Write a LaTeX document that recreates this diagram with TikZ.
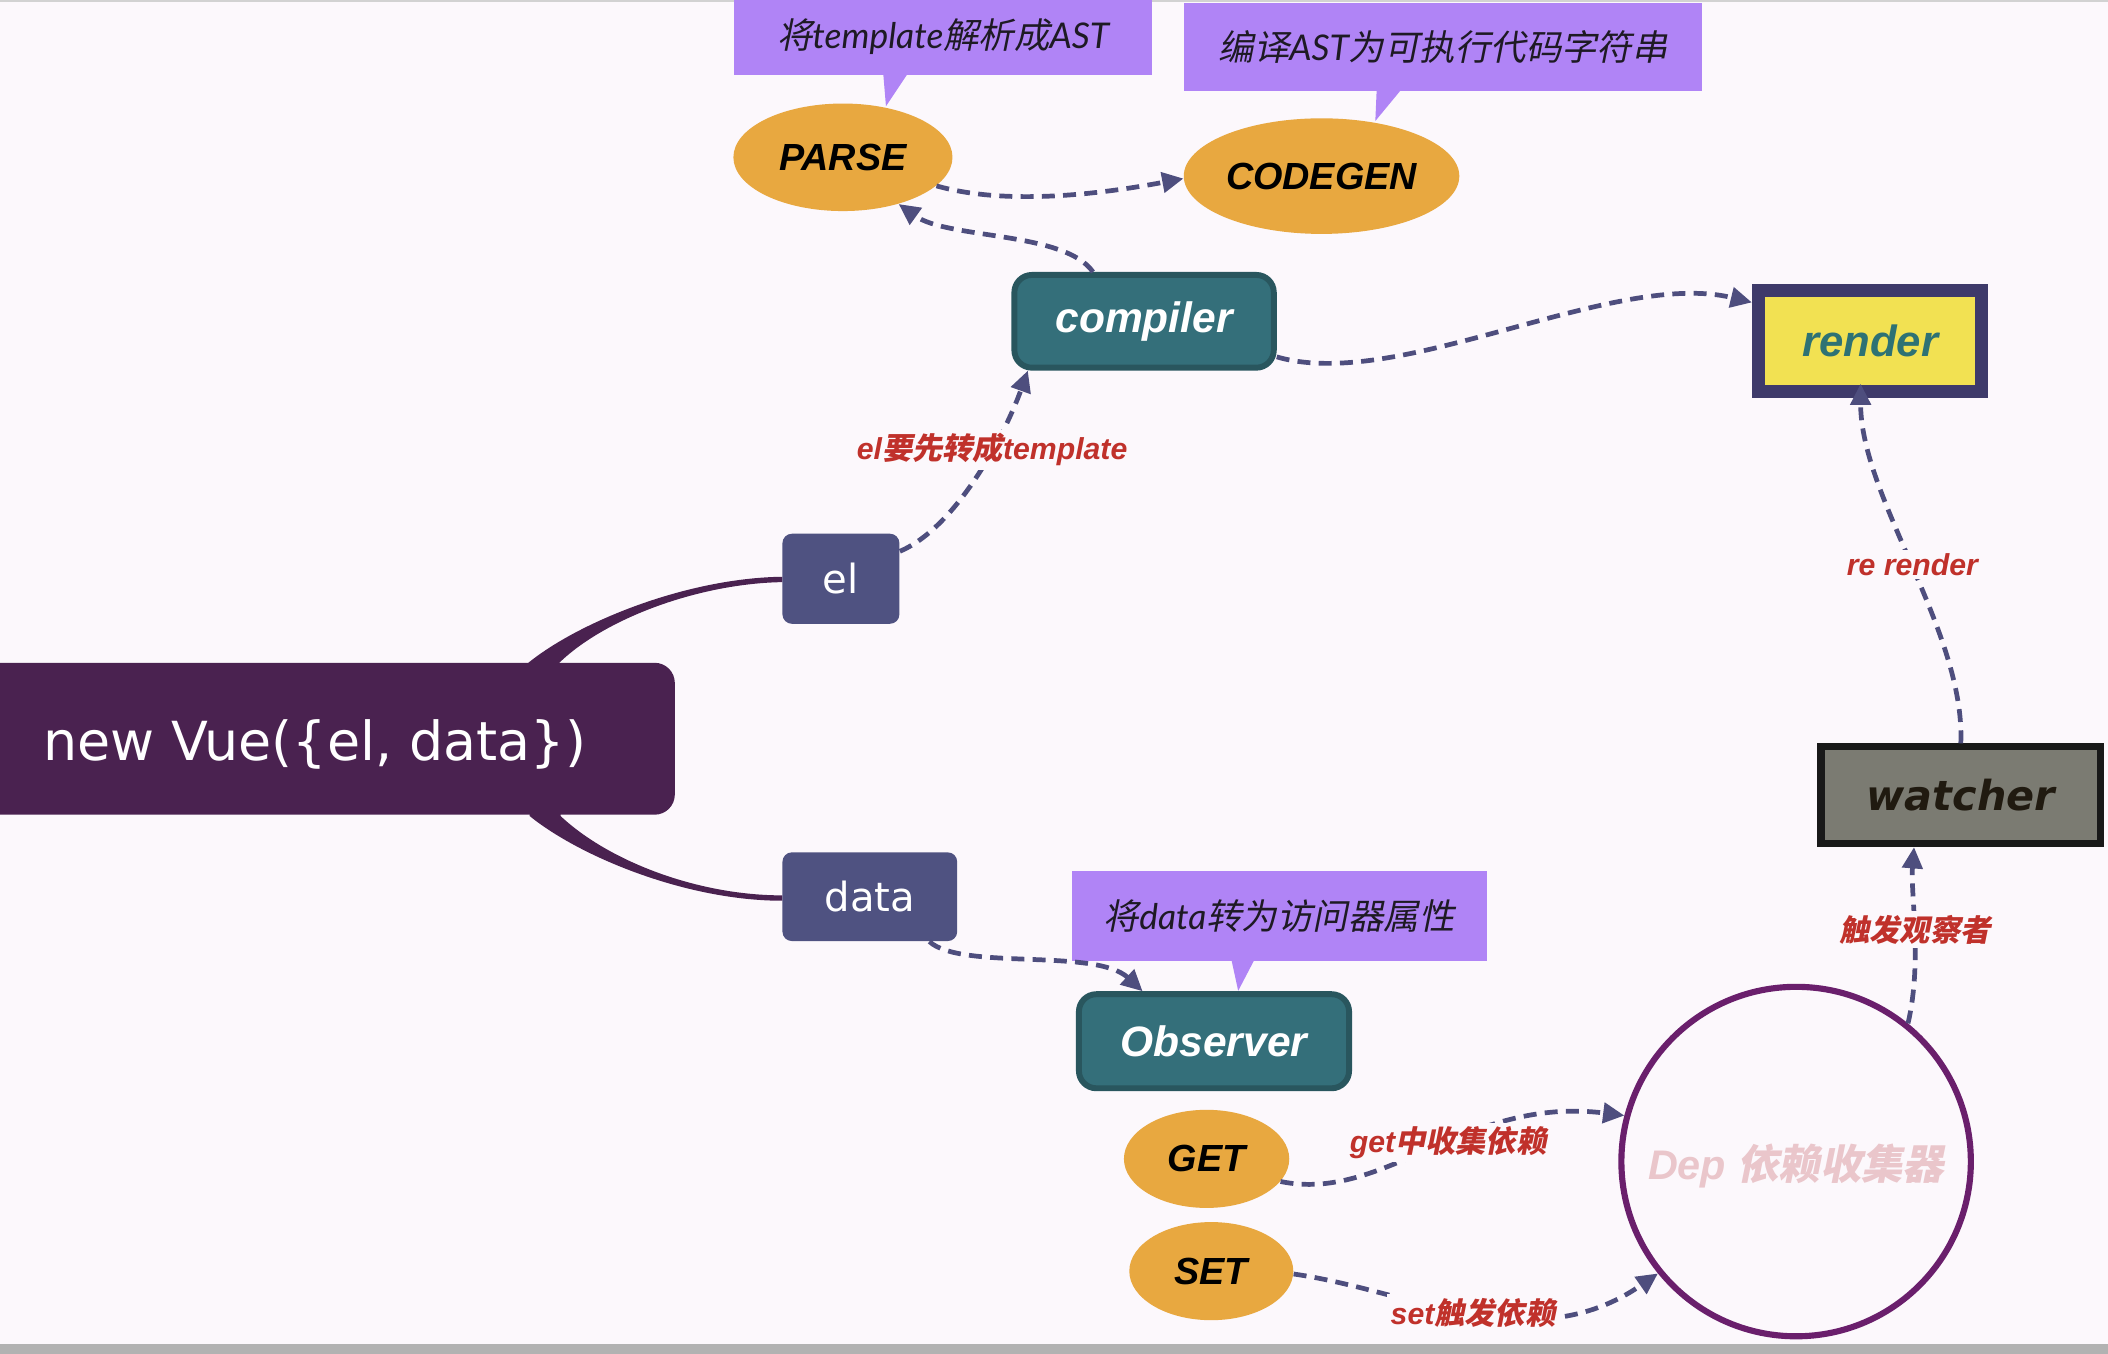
\documentclass[tikz,border=0pt]{standalone}
\usepackage{fontspec}
\setmainfont{Liberation Sans}
\newfontfamily\cjk{Noto Sans CJK SC}[FakeSlant=0.2]
\newfontfamily\latinf{Lato}
\newfontfamily\dvs{DejaVu Sans}
\usetikzlibrary{arrows.meta,shapes.geometric,calc}
\definecolor{bg}{HTML}{FCF8FC}
\definecolor{callp}{HTML}{B084F6}
\definecolor{orangec}{HTML}{E8A840}
\definecolor{tealc}{HTML}{346F7A}
\definecolor{tealdk}{HTML}{29565E}
\definecolor{slatec}{HTML}{4F5281}
\definecolor{vuec}{HTML}{4A2250}
\definecolor{renderbd}{HTML}{3E3A6A}
\definecolor{renderfill}{HTML}{F2E152}
\definecolor{rendertxt}{HTML}{2E7274}
\definecolor{watchfill}{HTML}{7B7B72}
\definecolor{watchtxt}{HTML}{201A10}
\definecolor{depc}{HTML}{6A1F6C}
\definecolor{deptxt}{HTML}{EAC6CB}
\definecolor{connc}{HTML}{4E4E7E}
\definecolor{labred}{HTML}{C0312B}
\definecolor{calltxt}{HTML}{1E1A24}
\newcommand\Lt[1]{{\latinf\itshape #1}}
\newcommand\Lb[1]{{\itshape #1}}
\newcommand\Ck[1]{{\cjk #1}}
\begin{document}
\begin{tikzpicture}[x=0.02cm,y=-0.02cm,
  ell/.style={ellipse, fill=orangec, draw=none, inner sep=0pt, text=black,
    font=\fontsize{16}{19}\selectfont\bfseries\itshape},
  tealbox/.style={rectangle, rounded corners=0.26cm, fill=tealc, draw=tealdk, line width=2.5pt,
    text=white, inner sep=0pt, font=\fontsize{18}{21}\selectfont\bfseries\itshape},
  slatebox/.style={rectangle, rounded corners=0.14cm, fill=slatec, text=white, inner sep=0pt,
    font=\dvs\fontsize{17}{20}\selectfont},
  callout/.style={rectangle, fill=callp, inner sep=0pt, text=calltxt,
    font=\fontsize{15}{18}\selectfont},
  conn/.style={draw=connc, line width=2pt, dash pattern=on 5.5pt off 3.5pt,
    -{Triangle[length=9pt,width=8.5pt]}},
  lbl/.style={text=labred, fill=bg, inner sep=1.5pt,
    font=\fontsize{12.8}{15}\selectfont\bfseries}
]
\useasboundingbox (0,0) rectangle (1568,1007);
\fill[bg] (0,0) rectangle (1568,1007);
\fill[gray!35] (0,0) rectangle (1568,1.5);
\fill[gray!60] (0,1000) rectangle (1568,1007);

% tapered branches from new Vue
\fill[vuec] (393,500) -- (393,493) .. controls (430,463) and (510,430) .. (582,429)
  -- (582,433) .. controls (520,434) and (450,460) .. (416,493) -- (416,500) -- cycle;
\fill[vuec] (394,600) -- (394,607) .. controls (431,637) and (510,670) .. (582,670)
  -- (582,666) .. controls (518,666) and (452,640) .. (417,607) -- (417,600) -- cycle;

% callouts
\node[callout, minimum width=6.22cm, minimum height=1.16cm] (c1) at (701.5,27)
  {\Ck{将}\Lt{template}\Ck{解析成}\Lt{AST}};
\fill[callp] (657,55) -- (675,55) -- (659,79) -- cycle;
\node[callout, minimum width=7.7cm, minimum height=1.32cm] (c2) at (1073.5,35)
  {\Ck{编译}\Lt{AST}\Ck{为可执行代码字符串}};
\fill[callp] (1024,67) -- (1042,67) -- (1023,90) -- cycle;
\node[callout, minimum width=6.18cm, minimum height=1.34cm] (c3) at (951.5,681.5)
  {\Ck{将}\Lt{data}\Ck{转为访问器属性}};
\fill[callp] (916,714) -- (933,714) -- (921,737) -- cycle;

% main nodes
\node[rectangle, rounded corners=0.3cm, fill=vuec, inner sep=0pt, minimum width=10.44cm,
  minimum height=2.26cm,
  label={[name=vuetext, text=white, font=\dvs\fontsize{22.8}{26}\selectfont, xshift=-4pt, yshift=-2.5pt]center:new Vue(\{el, data\})}]
  (vue) at (241,549.5) {};
\node[slatebox, minimum width=1.74cm, minimum height=1.34cm] (el) at (625.5,430.5) {el};
\node[slatebox, minimum width=2.6cm, minimum height=1.32cm] (data) at (647,667) {data};

\node[ell, minimum width=3.26cm, minimum height=1.6cm] (parse) at (627,117) {PARSE};
\node[ell, minimum width=4.1cm, minimum height=1.72cm] (codegen) at (983,131) {CODEGEN};
\node[tealbox, minimum width=3.86cm, minimum height=1.38cm] (compiler) at (851,239) {compiler};
\node[rectangle, fill=renderfill, draw=renderbd, line width=5.6pt, inner sep=0pt,
  minimum width=3.32cm, minimum height=1.5cm, text=rendertxt,
  font=\fontsize{18.5}{21}\selectfont\bfseries\itshape] (render) at (1391,253.5) {render};
\node[rectangle, fill=watchfill, draw=black!90, line width=3pt, inner sep=0pt,
  minimum width=4.16cm, minimum height=1.44cm, text=watchtxt,
  font=\dvs\fontsize{17.5}{20}\selectfont\bfseries\itshape] (watcher) at (1458.5,591.5) {watcher};
\node[tealbox, minimum width=4.02cm, minimum height=1.4cm] (observer) at (903,774.5) {Observer};
\node[ell, minimum width=2.46cm, minimum height=1.46cm] (get) at (897.5,862) {GET};
\node[ell, minimum width=2.44cm, minimum height=1.46cm] (set) at (901,945.5) {SET};
\node[circle, draw=depc, line width=2.6pt, inner sep=0pt, minimum size=5.2cm,
  label={[name=deptext, text=deptxt, font=\fontsize{17.5}{21}\selectfont\bfseries, yshift=-2pt]center:{\Lb{Dep} \Ck{依赖收集器}}}]
  (dep) at (1336,864) {};

% connectors
\draw[conn] (parse.-17) .. controls (745,152) and (810,146) .. (codegen.181);
\draw[conn] (compiler.136) .. controls (792,172) and (705,178) .. (parse.-40);
\draw[conn] (el.25) .. controls (712,392) and (748,322) .. (compiler.-157)
  node[lbl, pos=0.62] {\Lb{el}\Ck{要先转成}\Lb{template}};
\draw[conn] (compiler.-15) .. controls (1040,292) and (1200,200) .. (render.162);
\draw[conn] (watcher.north) .. controls (1462,470) and (1384,370) .. ([xshift=-4pt,yshift=6pt]render.south)
  node[lbl, pos=0.5] {\Lb{re render}};
\draw[conn] (dep.51) .. controls (1430,715) and (1421,665) .. (watcher.-132)
  node[lbl, pos=0.5] {\Ck{触发观察者}};
\draw[conn] (data.-37) .. controls (715,722) and (815,705) .. (observer.145);
\draw[conn] (get.-17) .. controls (1030,895) and (1090,815) .. (dep.165)
  node[lbl, pos=0.55] {\Lb{get}\Ck{中收集依赖}};
\draw[conn] (set.-2) .. controls (1050,960) and (1140,1012) .. (dep.-141)
  node[lbl, pos=0.5] {\Lb{set}\Ck{触发依赖}};
\end{tikzpicture}
\end{document}
